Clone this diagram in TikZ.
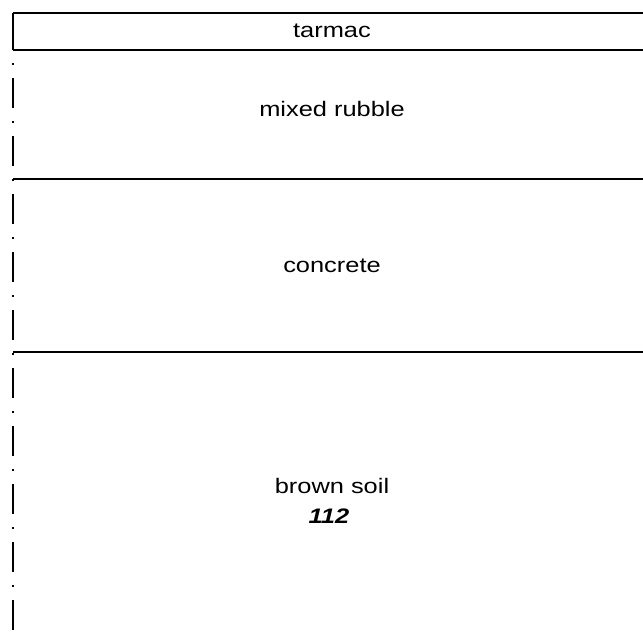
\documentclass[tikz,border=0pt]{standalone}
\usepackage{fontspec}
\setmainfont{Liberation Sans}[FakeStretch=1.21]
\usepackage{tikz}
\tikzstyle{layerText} = [anchor=base, inner sep=0pt, font=\fontsize{21}{25}\selectfont]
\tikzstyle{layerLine} = [draw, line width=1.4pt]
\tikzstyle{sideLine} = [draw, line width=2.2pt]
\tikzstyle{holeEdge} = [draw, line width=2.2pt, dash pattern=on 30pt off 13pt on 2pt off 13pt, dash phase=30pt]

\begin{document}
\begin{tikzpicture}[x=1pt, y=-1pt]
\useasboundingbox (0,0) rectangle (643,633);

\coordinate (tarmacTopL) at (13,13);
\coordinate (tarmacTopR) at (643,13);
\coordinate (tarmacBotL) at (13,50);
\coordinate (tarmacBotR) at (643,50);
\coordinate (rubbleBotL) at (13,179);
\coordinate (rubbleBotR) at (643,179);
\coordinate (concreteBotL) at (13,352);
\coordinate (concreteBotR) at (643,352);
\coordinate (holeEnd) at (13,633);

\node[layerText] at (332,37) (tarmac) {tarmac};
\node[layerText] at (332,116) (rubble) {mixed rubble};
\node[layerText] at (332,272) (concrete) {concrete};
\node[layerText] at (332,493) (soil) {brown soil};
\node[layerText] at (329,523) (soilCode) {\textbf{\textit{112}}};

\path [layerLine] (tarmacTopL) -- (tarmacTopR);
\path [layerLine] (tarmacBotL) -- (tarmacBotR);
\path [sideLine] (tarmacTopL) -- (tarmacBotL);

\path [layerLine] (rubbleBotL) -- (rubbleBotR);
\path [layerLine] (concreteBotL) -- (concreteBotR);

\path [holeEdge] (tarmacBotL) -- (holeEnd);

\end{tikzpicture}
\end{document}
